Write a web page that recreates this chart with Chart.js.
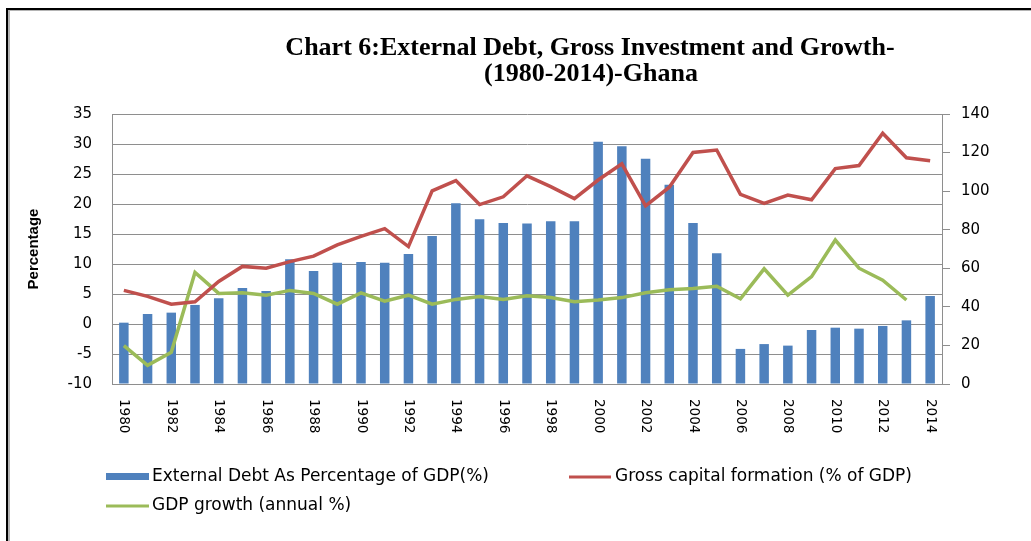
<!DOCTYPE html>
<html lang="en">
<head>
    <meta charset="UTF-8">
    <title>External Debt, Gross Investment and Growth - Ghana</title>
    <script src="https://cdn.jsdelivr.net/npm/chart.js"></script>
    <style>
        body {
            margin: 0;
            background: white;
        }
        .wrap {
            position: relative;
            width: 1031px;
            height: 541px;
            overflow: hidden;
        }
        .frame {
            position: absolute;
            left: 6px;
            top: 8px;
            width: 1100px;
            height: 600px;
            border-top: 2px solid #000;
            border-left: 2px solid #000;
        }
        .frame::after {
            content: '';
            position: absolute;
            left: 0;
            top: 0;
            right: 0;
            bottom: 0;
            border-top: 1px solid #b4b4b4;
            border-left: 2px solid #b4b4b4;
        }
        canvas {
            position: absolute;
            left: 0;
            top: 0;
        }
    </style>
</head>
<body>
<div class="wrap">
    <canvas id="debtChart" width="1031" height="541"></canvas>
    <div class="frame"></div>
</div>

<script>
    // years on the category axis
    const years = [];
    for (let y = 1980; y <= 2014; y++) years.push(String(y));

    // External debt, % of GDP (right axis)
    const externalDebt = [
        31.8, 36.3, 37.0, 41.0, 44.4, 49.8, 48.2, 64.7, 58.6, 62.9,
        63.3, 62.9, 67.4, 76.7, 93.7, 85.4, 83.5, 83.2, 84.4, 84.4,
        125.6, 123.3, 116.8, 103.3, 83.5, 67.8, 18.2, 20.7, 19.9, 28.0,
        29.2, 28.7, 30.1, 33.0, 45.6
    ];

    // Gross capital formation, % of GDP (left axis)
    const grossCapital = [
        5.6, 4.6, 3.3, 3.7, 7.1, 9.6, 9.3, 10.4, 11.3, 13.2,
        14.6, 15.9, 12.9, 22.2, 23.9, 19.9, 21.2, 24.7, 22.9, 20.9,
        24.0, 26.7, 19.7, 22.8, 28.6, 29.0, 21.6, 20.1, 21.5, 20.7,
        25.9, 26.4, 31.8, 27.7, 27.2
    ];

    // GDP growth, annual % (left axis)
    const gdpGrowth = [
        -3.6, -6.9, -4.7, 8.6, 5.1, 5.2, 4.8, 5.6, 5.1, 3.3,
        5.2, 3.8, 4.8, 3.3, 4.1, 4.6, 4.1, 4.7, 4.4, 3.7,
        4.0, 4.4, 5.2, 5.7, 5.9, 6.3, 4.2, 9.2, 4.8, 7.9,
        14.0, 9.3, 7.3, 4.0, null
    ];

    const titleLines = ['Chart 6:External Debt, Gross Investment and Growth-', '(1980-2014)-Ghana'];

    const BLUE = '#4F81BD';
    const RED = '#C0504D';
    const GREEN = '#9BBB59';
    const GRID = '#8e8e8e';

    // title, rotated year labels and legend drawn on top of the chart
    const extras = {
        id: 'extras',
        afterDraw(chart) {
            const ctx = chart.ctx;
            const xs = chart.scales.x;
            ctx.save();

            // title
            ctx.fillStyle = '#000';
            ctx.font = 'bold 26px "Liberation Serif"';
            ctx.textAlign = 'center';
            ctx.textBaseline = 'middle';
            ctx.fillText(titleLines[0], 590, 48);
            ctx.fillText(titleLines[1], 591, 74);

            // year labels, every second year, reading top to bottom
            ctx.font = '13.5px "DejaVu Sans"';
            ctx.textAlign = 'left';
            ctx.textBaseline = 'middle';
            years.forEach((yr, i) => {
                if (i % 2 !== 0) return;
                const x = xs.getPixelForValue(i);
                ctx.save();
                ctx.translate(x, 399);
                ctx.rotate(Math.PI / 2);
                ctx.fillText(yr, 0, 0);
                ctx.restore();
            });

            // legend
            const ds = chart.data.datasets;
            ctx.font = '17px "DejaVu Sans"';
            ctx.fillStyle = BLUE;
            ctx.fillRect(106, 473, 43, 7);
            ctx.fillStyle = '#000';
            ctx.fillText(ds[0].label, 152, 477);

            ctx.strokeStyle = RED;
            ctx.lineWidth = 3;
            ctx.beginPath();
            ctx.moveTo(569, 477);
            ctx.lineTo(611, 477);
            ctx.stroke();
            ctx.fillText(ds[1].label, 615, 477);

            ctx.strokeStyle = GREEN;
            ctx.beginPath();
            ctx.moveTo(106, 506);
            ctx.lineTo(149, 506);
            ctx.stroke();
            ctx.fillText(ds[2].label, 152, 506);

            ctx.restore();
        }
    };

    const ctx = document.getElementById('debtChart').getContext('2d');
    new Chart(ctx, {
        data: {
            labels: years,
            datasets: [
                {
                    type: 'bar',
                    label: 'External Debt As Percentage of GDP(%)',
                    data: externalDebt,
                    yAxisID: 'y1',
                    backgroundColor: BLUE,
                    barPercentage: 0.4,
                    categoryPercentage: 1.0,
                    order: 3
                },
                {
                    type: 'line',
                    label: 'Gross capital formation (% of GDP)',
                    data: grossCapital,
                    yAxisID: 'y',
                    borderColor: RED,
                    borderWidth: 3.5,
                    pointRadius: 0,
                    tension: 0,
                    order: 1
                },
                {
                    type: 'line',
                    label: 'GDP growth (annual %)',
                    data: gdpGrowth,
                    yAxisID: 'y',
                    borderColor: GREEN,
                    borderWidth: 3.5,
                    pointRadius: 0,
                    tension: 0,
                    order: 2
                }
            ]
        },
        options: {
            responsive: false,
            animation: false,
            layout: {
                padding: { top: 114, bottom: 97, left: 0, right: 0 }
            },
            plugins: {
                legend: { display: false },
                title: { display: false },
                tooltip: { enabled: false }
            },
            scales: {
                x: {
                    offset: true,
                    ticks: { display: false },
                    grid: { display: true, drawOnChartArea: false, drawTicks: false },
                    border: { color: GRID },
                    afterFit: s => { s.height = 60; }
                },
                y: {
                    position: 'left',
                    min: -10,
                    max: 35,
                    ticks: {
                        stepSize: 5,
                        padding: 20,
                        color: '#000',
                        font: { family: 'DejaVu Sans', size: 15 }
                    },
                    grid: { color: GRID, drawTicks: false },
                    border: { color: GRID },
                    title: {
                        display: true,
                        text: 'Percentage',
                        color: '#000',
                        padding: { top: 25, bottom: 0 },
                        font: { family: 'Liberation Sans', size: 15, weight: 'bold' }
                    },
                    afterFit: s => { s.width = 112; }
                },
                y1: {
                    position: 'right',
                    min: 0,
                    max: 140,
                    ticks: {
                        stepSize: 20,
                        padding: 11,
                        color: '#000',
                        font: { family: 'DejaVu Sans', size: 15 }
                    },
                    grid: { drawOnChartArea: false, color: GRID, tickLength: 8 },
                    border: { color: GRID },
                    afterFit: s => { s.width = 89; }
                }
            }
        },
        plugins: [extras]
    });
</script>
</body>
</html>
